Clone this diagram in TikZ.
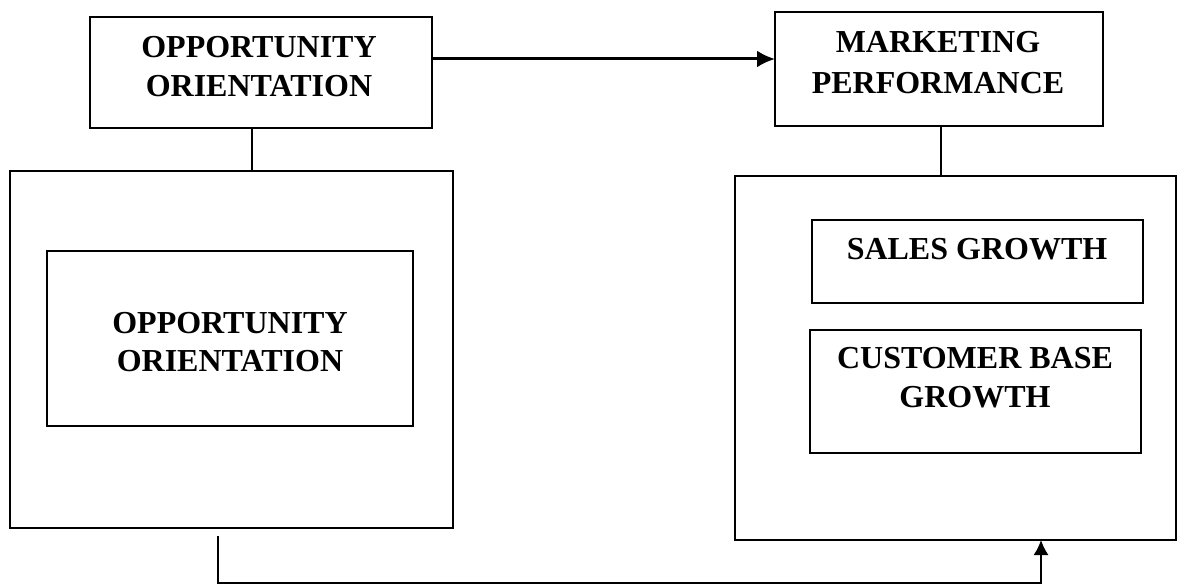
\documentclass[tikz,border=0pt]{standalone}
\usepackage{fontspec}
\setmainfont{Liberation Serif}
\usetikzlibrary{arrows.meta}
\begin{document}
\begin{tikzpicture}[x=1pt,y=-1pt,
  box/.style={draw,line width=1.3pt,inner sep=0pt,outer sep=0pt,rectangle},
  txt/.style={font=\fontsize{32}{38}\selectfont\bfseries,anchor=base,inner sep=0pt},
  conn/.style={line width=1.3pt},
  thick arrow/.style={line width=3pt,-{Latex[length=18pt,width=17pt]}},
  thin arrow/.style={line width=1.6pt,-{Latex[length=15pt,width=15pt]}}]
\useasboundingbox (0,0) rectangle (1181,585);
% boxes
\node[box,minimum width=342pt,minimum height=111pt] (tl) at (261,72.5) {};
\node[box,minimum width=328pt,minimum height=114pt] (tr) at (939,69) {};
\node[box,minimum width=443pt,minimum height=357pt] (lb) at (231.5,349.5) {};
\node[box,minimum width=366pt,minimum height=175pt] (li) at (230,338.5) {};
\node[box,minimum width=441pt,minimum height=364pt] (rb) at (955.5,358) {};
\node[box,minimum width=331pt,minimum height=83pt] (sg) at (977.5,261.5) {};
\node[box,minimum width=331pt,minimum height=123pt] (cb) at (975.5,391.5) {};
% texts
\node[txt] (tl1) at (259,58) {OPPORTUNITY};
\node[txt] (tl2) at (259,97) {ORIENTATION};
\node[txt] (tr1) at (938,53) {MARKETING};
\node[txt] (tr2) at (938,94) {PERFORMANCE};
\node[txt] (li1) at (230,334) {OPPORTUNITY};
\node[txt] (li2) at (230,371) {ORIENTATION};
\node[txt] (sg1) at (977,260) {SALES GROWTH};
\node[txt] (cb1) at (975,369) {CUSTOMER BASE};
\node[txt] (cb2) at (975,407) {GROWTH};
% connectors
\draw[thick arrow] ([yshift=13.5pt]tl.east) -- ([yshift=13.5pt]tl.east -| tr.west);
\draw[conn] ([xshift=-9pt]tl.south) -- ([xshift=-9pt]tl.south |- lb.north);
\draw[conn] ([xshift=2pt]tr.south) -- ([xshift=2pt]tr.south |- rb.north);
\coordinate (bs) at (218,536);
\coordinate (be) at (1041,583);
\draw[thin arrow] (bs) |- (be) -- (be |- rb.south);
\end{tikzpicture}
\end{document}
